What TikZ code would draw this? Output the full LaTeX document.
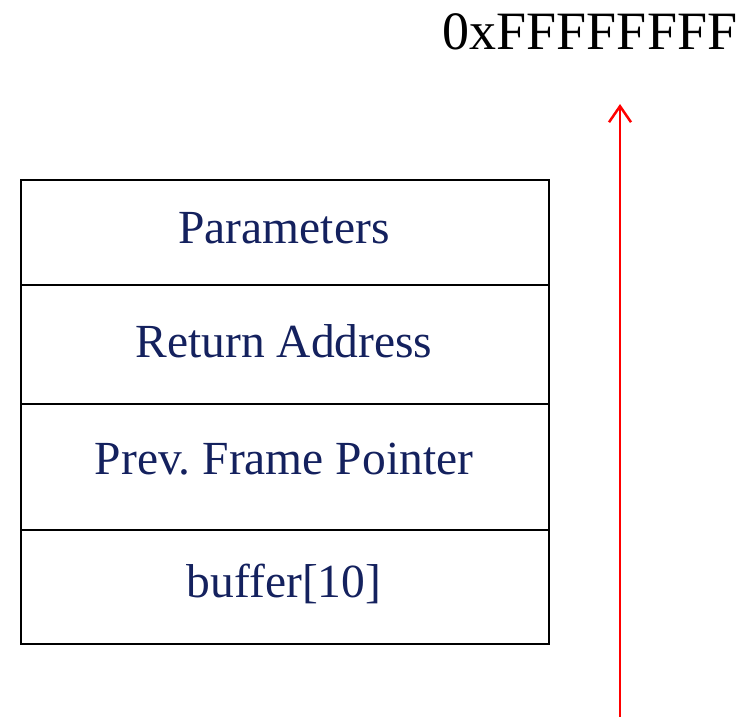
\documentclass[tikz,border=0pt]{standalone}
\usepackage{fontspec}
\setmainfont{Liberation Serif}
\usetikzlibrary{arrows.meta}
\definecolor{navy}{HTML}{14215E}
\frenchspacing
\begin{document}
\begin{tikzpicture}[x=1pt,y=-1pt,
  cell/.style={draw=black,line width=2.5pt,rectangle,minimum width=528pt,inner sep=0pt,anchor=north west},
  lbl/.style={text=navy,font=\fontsize{47.5}{50}\selectfont,anchor=base,inner sep=0pt},
  addr/.style={text=black,font=\fontsize{54}{60}\selectfont,anchor=base,inner sep=0pt}]
\useasboundingbox (0,0) rectangle (751,716);
\node[cell,minimum height=105pt] (r1) at (19.5,178.5) {};
\node[cell,minimum height=119pt] (r2) at (19.5,283.5) {};
\node[cell,minimum height=126pt] (r3) at (19.5,402.5) {};
\node[cell,minimum height=114pt] (r4) at (19.5,528.5) {};
\node[lbl] (t1) at (284,243) {Parameters};
\node[lbl] (t2) at (284,357) {Return Address};
\node[lbl] (t3) at (284,474) {Prev. Frame Pointer};
\node[lbl] (t4) at (284,597) {buffer[10]};
\node[addr] (top) at (590,49) {0xFFFFFFFF};
\coordinate (abot) at (620,718);
\coordinate (atop) at (620,104);
\draw[red,line width=2.5pt,-{Straight Barb[length=16pt,width=22pt]}] (abot) -- (atop);
\end{tikzpicture}
\end{document}
